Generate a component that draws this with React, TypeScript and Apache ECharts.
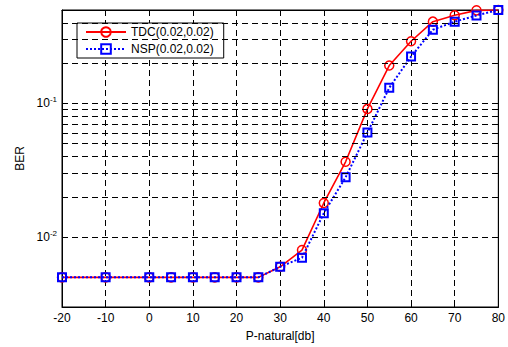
import React, { useEffect, useRef } from "react";
import * as echarts from "echarts";

const xValues = [-20, -10, 0, 5, 10, 15, 20, 25, 30, 35, 40, 45, 50, 55, 60, 65, 70, 75, 80];
const tdcBER = [0.005, 0.005, 0.005, 0.005, 0.005, 0.005, 0.005, 0.005, 0.006, 0.008, 0.018, 0.0366, 0.091, 0.192, 0.292, 0.409, 0.457, 0.497, 0.5];
const nspBER = [0.005, 0.005, 0.005, 0.005, 0.005, 0.005, 0.005, 0.005, 0.006, 0.007, 0.0151, 0.028, 0.0605, 0.131, 0.224, 0.356, 0.409, 0.455, 0.5];
const yGridValues = [
  0.004, 0.005, 0.006, 0.007, 0.008, 0.009, 0.01,
  0.02, 0.03, 0.04, 0.05, 0.06, 0.07, 0.08, 0.09, 0.1,
  0.2, 0.3, 0.4,
];
const seriesNames = ["TDC(0.02,0.02)", "NSP(0.02,0.02)"];
const xMin = -20;
const xMax = 80;
const yMin = 0.003;
const yMax = 0.5;

const FONT = "'Liberation Sans', Arial, sans-serif";

export default function App() {
  const ref = useRef<HTMLDivElement>(null);
  useEffect(() => {
    if (!ref.current) return;
    document.body.style.margin = "0";
    const chart = echarts.init(ref.current, null, { renderer: "svg" });
    const dash = [6, 4];
    const isPow10 = (v: number) => {
      const l = Math.log10(v);
      return Math.abs(l - Math.round(l)) < 1e-6;
    };
    chart.setOption({
      animation: false,
      backgroundColor: "#fff",
      textStyle: { fontFamily: FONT },
      grid: {
        left: 62,
        right: 7,
        top: 10,
        bottom: 33,
        show: true,
        borderColor: "#000",
        borderWidth: 1,
        backgroundColor: "transparent",
      },
      legend: {
        data: seriesNames,
        orient: "vertical",
        left: 77,
        top: 23,
        padding: [3, 10, 3, 8],
        itemGap: 5,
        itemWidth: 40,
        itemHeight: 12,
        backgroundColor: "#fff",
        borderColor: "#000",
        borderWidth: 1,
        borderRadius: 0,
        textStyle: { fontFamily: FONT, fontSize: 12, color: "#000" },
      },
      xAxis: [
        {
          type: "value",
          min: xMin,
          max: xMax,
          interval: 10,
          name: "P-natural[db]",
          nameLocation: "middle",
          nameGap: 23,
          nameTextStyle: { fontFamily: FONT, fontSize: 12, color: "#000" },
          axisLine: { show: true, onZero: false, lineStyle: { color: "#000" } },
          axisTick: { show: true, inside: true, length: 5, lineStyle: { color: "#000" } },
          axisLabel: { fontFamily: FONT, fontSize: 12, color: "#000", margin: 5 },
          splitLine: { show: true, lineStyle: { color: "#000", type: dash, width: 1 } },
        },
        {
          type: "value",
          position: "top",
          min: xMin,
          max: xMax,
          interval: 10,
          axisLine: { show: true, onZero: false, lineStyle: { color: "#000" } },
          axisTick: { show: true, inside: true, length: 5, lineStyle: { color: "#000" } },
          axisLabel: { show: false },
          splitLine: { show: false },
        },
      ],
      yAxis: [
        {
          type: "log",
          logBase: 10,
          min: yMin,
          max: yMax,
          name: "BER",
          nameLocation: "middle",
          nameGap: 36,
          nameTextStyle: { fontFamily: FONT, fontSize: 12, color: "#000" },
          axisLine: { show: true, onZero: false, lineStyle: { color: "#000" } },
          axisTick: { show: true, inside: true, length: 5, lineStyle: { color: "#000" } },
          axisLabel: {
            margin: 5,
            color: "#000",
            formatter: (v: number) => {
              if (!isPow10(v)) return "";
              return "{b|10}{s|" + Math.round(Math.log10(v)) + "}";
            },
            rich: {
              b: { fontFamily: FONT, fontSize: 12, color: "#000" },
              s: { fontFamily: FONT, fontSize: 8, color: "#000", padding: [0, 0, 8, 0] },
            },
          },
          splitLine: { show: false },
        },
        {
          type: "log",
          logBase: 10,
          position: "right",
          min: yMin,
          max: yMax,
          axisLine: { show: true, onZero: false, lineStyle: { color: "#000" } },
          axisTick: { show: true, inside: true, length: 5, lineStyle: { color: "#000" } },
          axisLabel: { show: false },
          splitLine: { show: false },
        },
      ],
      series: [
        {
          name: "grid",
          type: "line",
          data: [],
          silent: true,
          z: 1,
          markLine: {
            silent: true,
            symbol: "none",
            label: { show: false },
            lineStyle: { color: "#000", type: dash, width: 1 },
            data: yGridValues.map((v) => ({ yAxis: v })),
          },
        },
        {
          name: seriesNames[0],
          type: "line",
          z: 3,
          color: "#ff0000",
          data: xValues.map((x, i) => [x, tdcBER[i]]),
          symbol: "circle",
          symbolSize: 9,
          lineStyle: { color: "#ff0000", width: 1.6, type: "solid" },
          itemStyle: { color: "rgba(255,255,255,0)", borderColor: "#ff0000", borderWidth: 1.5 },
        },
        {
          name: seriesNames[1],
          type: "line",
          z: 4,
          color: "#0000ff",
          data: xValues.map((x, i) => [x, nspBER[i]]),
          symbol: "rect",
          symbolSize: 8,
          lineStyle: { color: "#0000ff", width: 2, type: [2, 2] },
          itemStyle: { color: "rgba(255,255,255,0)", borderColor: "#0000ff", borderWidth: 2 },
        },
      ],
    });
    return () => chart.dispose();
  }, []);
  return <div ref={ref} style={{ width: 508, height: 347 }} />;
}
